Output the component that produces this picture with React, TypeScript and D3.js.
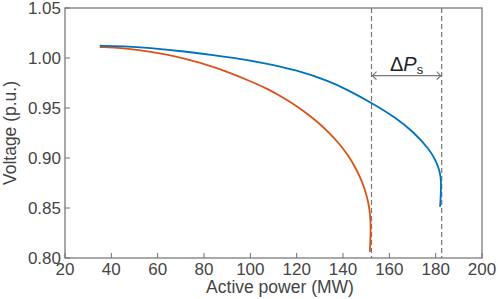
import React from "react";
import * as d3 from "d3";

const xTicks = [20, 40, 60, 80, 100, 120, 140, 160, 180, 200];
const yTicks = [0.8, 0.85, 0.9, 0.95, 1.0, 1.05];

const blueP = [35, 45, 56.7, 70, 85.5, 91.2, 105.6, 120, 134.4, 141.6, 152.4, 163.2, 170.3, 177.6, 180.4, 181.5, 182.1, 182.35, 182.25, 182.1, 181.9];
const blueV = [1.0123, 1.0118, 1.01, 1.007, 1.0025, 1.0007, 0.9953, 0.988, 0.9765, 0.9685, 0.9552, 0.9397, 0.9263, 0.908, 0.8954, 0.8885, 0.882, 0.8747, 0.866, 0.858, 0.8513];

const orangeP = [35, 45, 56.7, 71.1, 85.5, 99.9, 107, 114.2, 121.4, 128.6, 134, 138.7, 142, 144.4, 147.3, 149.45, 150.95, 151.7, 151.95, 151.9, 151.8, 151.6];
const orangeV = [1.011, 1.01, 1.0066, 1.0003, 0.9905, 0.977, 0.9697, 0.9606, 0.9499, 0.9371, 0.9255, 0.9134, 0.9032, 0.8945, 0.8816, 0.8688, 0.8557, 0.8444, 0.833, 0.826, 0.816, 0.806];

const dashP = [152.3, 182.6];

export default function App() {
  const W = 498, H = 299;
  const L = 65, R = 482, T = 8, B = 258;
  const x = d3.scaleLinear().domain([20, 200]).range([L, R]);
  const y = d3.scaleLinear().domain([0.8, 1.05]).range([B, T]);
  const line = d3
    .line<[number, number]>()
    .x((d) => x(d[0]))
    .y((d) => y(d[1]))
    .curve(d3.curveBasis);
  const blue = blueP.map((p, i) => [p, blueV[i]] as [number, number]);
  const orange = orangeP.map((p, i) => [p, orangeV[i]] as [number, number]);
  const font = "'Liberation Sans', Arial, sans-serif";
  const axisCol = "#707070";
  const textCol = "#454545";
  const ay = 75.7;
  const x1 = x(dashP[0]), x2 = x(dashP[1]);
  const ts = { fontFamily: font, fontSize: 17, fill: textCol } as React.CSSProperties;
  const ls = { fontFamily: font, fontSize: 17.5, fill: textCol } as React.CSSProperties;
  return (
    <svg width={W} height={H} style={{ position: "absolute", left: 0, top: 0 }}>
      <rect x={0} y={0} width={W} height={H} fill="#fff" />
      <rect x={L} y={T} width={R - L} height={B - T} fill="none" stroke={axisCol} strokeWidth={1.2} />
      {xTicks.map((t) => (
        <g key={"x" + t}>
          <line x1={x(t)} x2={x(t)} y1={B} y2={B - 5} stroke={axisCol} strokeWidth={1} />
          <text x={x(t)} y={275} textAnchor="middle" style={ts}>
            {t}
          </text>
        </g>
      ))}
      {yTicks.map((t) => (
        <g key={"y" + t}>
          <line x1={L} x2={L + 5} y1={y(t)} y2={y(t)} stroke={axisCol} strokeWidth={1} />
          <text x={61} y={y(t)} dy="0.36em" textAnchor="end" style={ts}>
            {t.toFixed(2)}
          </text>
        </g>
      ))}
      <text x={280} y={293} textAnchor="middle" style={ls}>
        Active power (MW)
      </text>
      <text transform={`translate(16, 133) rotate(-90)`} textAnchor="middle" style={ls}>
        Voltage (p.u.)
      </text>
      {dashP.map((p) => (
        <line key={p} x1={x(p)} x2={x(p)} y1={T} y2={B} stroke="#777" strokeWidth={1.2} strokeDasharray="5,3" />
      ))}
      <line x1={x1} x2={x2} y1={ay} y2={ay} stroke="#777" strokeWidth={1.2} />
      <path d={`M${x1 + 5},${ay - 4} L${x1 + 1},${ay} L${x1 + 5},${ay + 4}`} fill="none" stroke="#777" strokeWidth={1.2} />
      <path d={`M${x2 - 5},${ay - 4} L${x2 - 1},${ay} L${x2 - 5},${ay + 4}`} fill="none" stroke="#777" strokeWidth={1.2} />
      <text x={(x1 + x2) / 2} y={71} textAnchor="middle" style={{ fontFamily: font, fontSize: 20, fill: "#222" }}>
        Δ<tspan fontStyle="italic">P</tspan>
        <tspan fontSize={13} dy={3}>s</tspan>
      </text>
      <path d={line(orange) || ""} fill="none" stroke="#D95319" strokeWidth={1.8} />
      <path d={line(blue) || ""} fill="none" stroke="#0072BD" strokeWidth={1.8} />
    </svg>
  );
}
